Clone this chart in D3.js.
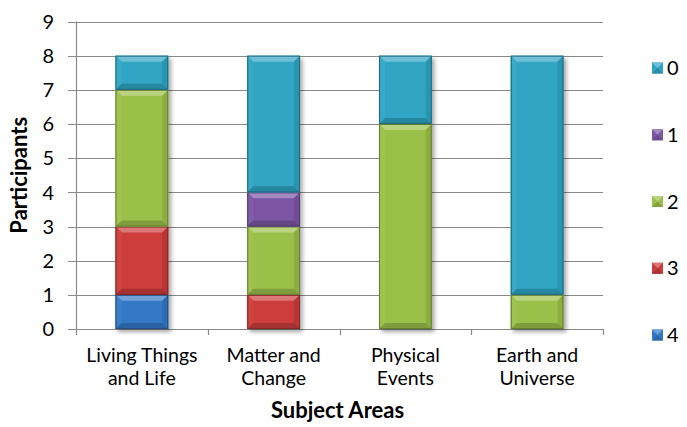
<!DOCTYPE html>
<html>
<head>
<meta charset="utf-8">
<script src="https://cdn.jsdelivr.net/npm/d3@7"></script>
<style>
  html, body { margin: 0; padding: 0; background: #fff; }
  svg { display: block; font-family: Lato, "Open Sans", sans-serif; }
</style>
</head>
<body>
<svg id="chart" width="687" height="427"></svg>
<script>
// Subject areas on the x axis (each label split over two lines)
const categories = ["Living Things and Life", "Matter and Change", "Physical Events", "Earth and Universe"];
const categoryLines = [["Living Things", "and Life"], ["Matter and", "Change"], ["Physical", "Events"], ["Earth and", "Universe"]];

// Participants per score, stacked bottom to top: 4, 3, 2, 1, 0
const seriesNames = ["4", "3", "2", "1", "0"];
const score4 = [1, 0, 0, 0];
const score3 = [2, 1, 0, 0];
const score2 = [4, 2, 6, 1];
const score1 = [0, 1, 0, 0];
const score0 = [1, 4, 2, 7];
const seriesColors = ["#3479c6", "#cc3c3b", "#9bc04a", "#7b56a4", "#30a5c4"];

const yTicks = [0, 1, 2, 3, 4, 5, 6, 7, 8, 9];
const legendOrder = ["0", "1", "2", "3", "4"];

const rows = categories.map((c, i) => ({
  category: c,
  "4": score4[i], "3": score3[i], "2": score2[i], "1": score1[i], "0": score0[i]
}));

const svg = d3.select("#chart");
const plot = { left: 76, right: 603, top: 21.5, bottom: 329 };

const x = d3.scaleBand().domain(categories).range([plot.left, plot.right]).paddingInner(0.6).paddingOuter(0.3);
const xEdges = d3.scaleBand().domain(categories).range([plot.left, plot.right]);
const y = d3.scaleLinear().domain([0, 9]).range([plot.bottom, plot.top]);

const defs = svg.append("defs");
const shadow = defs.append("filter").attr("id", "barShadow")
  .attr("x", "-20%").attr("y", "-10%").attr("width", "150%").attr("height", "130%");
shadow.append("feDropShadow").attr("dx", 2.5).attr("dy", 3).attr("stdDeviation", 2)
  .attr("flood-color", "#000").attr("flood-opacity", 0.35);

// gridlines with short outward tick marks on the left
svg.append("g").selectAll("line").data(yTicks).join("line")
  .attr("x1", plot.left - 8).attr("x2", plot.right)
  .attr("y1", d => Math.round(y(d)) + 0.5).attr("y2", d => Math.round(y(d)) + 0.5)
  .attr("stroke", "#8a8a8a").attr("stroke-width", 1.2);

// y axis line
svg.append("line")
  .attr("x1", plot.left + 0.5).attr("x2", plot.left + 0.5)
  .attr("y1", plot.top).attr("y2", plot.bottom)
  .attr("stroke", "#8a8a8a").attr("stroke-width", 1.2);

// category boundary ticks under the x axis
const edges = categories.map(c => xEdges(c)).concat([plot.right]);
svg.append("g").selectAll("line").data(edges).join("line")
  .attr("x1", d => Math.round(d) + 0.5).attr("x2", d => Math.round(d) + 0.5)
  .attr("y1", plot.bottom).attr("y2", plot.bottom + 6)
  .attr("stroke", "#8a8a8a").attr("stroke-width", 1.2);

// y tick labels
svg.append("g").selectAll("text").data(yTicks).join("text")
  .attr("x", 54).attr("y", d => y(d))
  .attr("dy", "0.36em").attr("text-anchor", "end")
  .attr("font-size", 20).attr("fill", "#000")
  .text(d => d);

// stacked bars with bevelled edges
const stack = d3.stack().keys(seriesNames)(rows);
const bars = svg.append("g").attr("filter", "url(#barShadow)");

function shade(color, k) {
  const c = d3.rgb(color);
  return k >= 0 ? d3.interpolateRgb(c, "#ffffff")(k) : d3.interpolateRgb(c, "#000000")(-k);
}

stack.forEach((layer, si) => {
  const color = seriesColors[si];
  layer.forEach((seg, ci) => {
    if (seg[1] - seg[0] <= 0) return;
    const x0 = x(categories[ci]), x1 = x0 + x.bandwidth();
    const yt = y(seg[1]), yb = y(seg[0]);
    const b = Math.min(6, (yb - yt) / 2);
    const g = bars.append("g");
    g.append("rect").attr("x", x0).attr("y", yt).attr("width", x1 - x0).attr("height", yb - yt)
      .attr("fill", color);
    const poly = (pts, fill) => g.append("polygon")
      .attr("points", pts.map(p => p.join(",")).join(" ")).attr("fill", fill);
    poly([[x0, yt], [x1, yt], [x1 - b, yt + b], [x0 + b, yt + b]], shade(color, 0.3));
    poly([[x0, yt], [x0 + b, yt + b], [x0 + b, yb - b], [x0, yb]], shade(color, 0.04));
    poly([[x1, yt], [x1 - b, yt + b], [x1 - b, yb - b], [x1, yb]], shade(color, -0.1));
    poly([[x0, yb], [x1, yb], [x1 - b, yb - b], [x0 + b, yb - b]], shade(color, -0.18));
    g.append("rect").attr("x", x0 + 0.5).attr("y", yt + 0.5)
      .attr("width", x1 - x0 - 1).attr("height", yb - yt - 1)
      .attr("fill", "none").attr("stroke", shade(color, -0.35)).attr("stroke-width", 1);
  });
});

// category labels
const catG = svg.append("g");
categories.forEach((c, i) => {
  const cx = xEdges(c) + xEdges.bandwidth() / 2;
  const t = catG.append("text").attr("x", cx).attr("y", 362)
    .attr("text-anchor", "middle").attr("font-size", 19.5).attr("fill", "#000");
  categoryLines[i].forEach((line, li) => {
    t.append("tspan").attr("x", cx).attr("dy", li === 0 ? 0 : 23).text(line);
  });
});

// axis titles
svg.append("text").attr("x", (plot.left + plot.right) / 2 - 2).attr("y", 418)
  .attr("text-anchor", "middle").attr("font-size", 22).attr("font-weight", "bold")
  .text("Subject Areas");
svg.append("text").attr("transform", `translate(27, ${(plot.top + plot.bottom) / 2}) rotate(-90)`)
  .attr("text-anchor", "middle").attr("font-size", 22).attr("font-weight", "bold")
  .text("Participants");

// legend
const legendY = d3.scalePoint().domain(legendOrder).range([68, 335]);
const legend = svg.append("g").selectAll("g").data(legendOrder).join("g")
  .attr("transform", d => `translate(652, ${legendY(d)})`);
legend.each(function (d) {
  const color = seriesColors[seriesNames.indexOf(d)];
  const g = d3.select(this);
  g.append("rect").attr("x", 0).attr("y", -5.5).attr("width", 11).attr("height", 11).attr("fill", color);
  g.append("polygon").attr("points", "0,-5.5 11,-5.5 5.5,0").attr("fill", shade(color, 0.3));
  g.append("polygon").attr("points", "0,5.5 11,5.5 5.5,0").attr("fill", shade(color, -0.15));
  g.append("text").attr("x", 15).attr("y", 0).attr("dy", "0.36em")
    .attr("font-size", 20).attr("fill", "#000").text(d);
});
</script>
</body>
</html>
